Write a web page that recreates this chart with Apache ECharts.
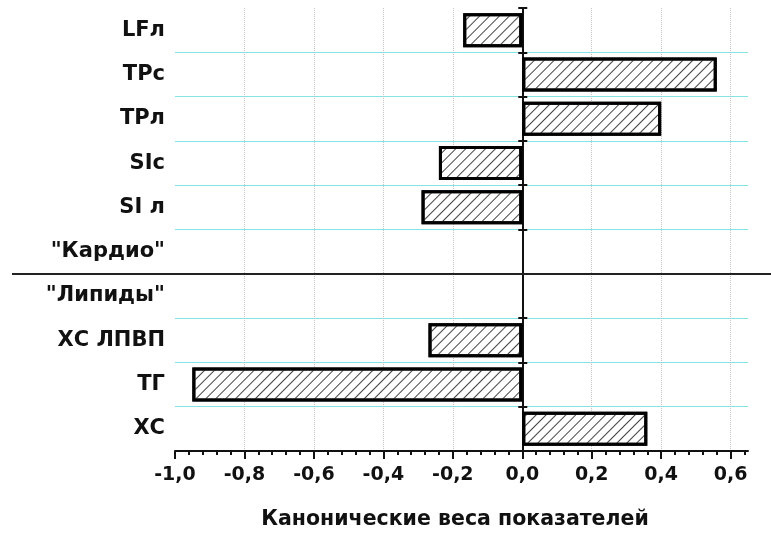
<!DOCTYPE html>
<html><head><meta charset="utf-8">
<script src="https://cdn.jsdelivr.net/npm/echarts@6/dist/echarts.min.js"></script>
<style>html,body{margin:0;padding:0;background:#fff}#c{width:771px;height:535px}</style>
</head><body><div id="c"></div>
<script>
const categories = ['LFл', 'TPc', 'TPл', 'SIc', 'SI л', '"Кардио"', '"Липиды"', 'ХС ЛПВП', 'ТГ', 'ХС'];
const weights = [-0.17, 0.56, 0.40, -0.24, -0.29, null, null, -0.27, -0.95, 0.36];
const majorTicks = [-1.0, -0.8, -0.6, -0.4, -0.2, 0.0, 0.2, 0.4, 0.6];
const gridLineTicks = [-0.8, -0.6, -0.4, -0.2, 0.2, 0.4, 0.6];
const minorTicks = [];
for (let i = 0; i <= 41; i++) { minorTicks.push(Math.round((-1 + i * 0.04) * 100) / 100); }
const separatorBefore = '"Липиды"';
const axisTitle = 'Канонические веса показателей';
const xMin = -1.0, xMax = 0.65;

const FONT = '"DejaVu Sans", sans-serif';
const chart = echarts.init(document.getElementById('c'), null, {renderer: 'canvas'});
const sepIndex = categories.indexOf(separatorBefore);

const option = {
  animation: false,
  backgroundColor: '#fff',
  grid: {left: 175, right: 23, top: 8, bottom: 84, containLabel: false, outerBoundsMode: 'none'},
  xAxis: [
    {
      type: 'value', min: xMin, max: xMax, position: 'bottom',
      axisLine: {show: true, onZero: false, lineStyle: {color: '#111', width: 2}},
      axisTick: {show: true, length: 8, customValues: majorTicks, lineStyle: {color: '#111', width: 2}},
      axisLabel: {
        customValues: majorTicks, margin: 15,
        formatter: v => v.toFixed(1).replace('.', ','),
        fontSize: 19, fontWeight: 'bold', color: '#111', fontFamily: FONT
      },
      splitLine: {show: false},
      name: axisTitle, nameLocation: 'middle', nameGap: 58,
      nameTextStyle: {fontSize: 20.5, fontWeight: 'bold', color: '#111', fontFamily: FONT, padding: [0, 13, 0, 0]}
    },
    {
      type: 'value', min: xMin, max: xMax, position: 'bottom',
      axisLine: {show: false, onZero: false},
      axisTick: {show: true, length: 4, customValues: minorTicks, lineStyle: {color: '#111', width: 2}},
      axisLabel: {show: false}, splitLine: {show: false}
    },
    {
      type: 'value', min: xMin, max: xMax, position: 'bottom',
      axisLine: {show: false, onZero: false},
      axisTick: {show: false, customValues: gridLineTicks},
      axisLabel: {show: false},
      splitLine: {show: true, lineStyle: {color: '#c4c4c4', type: 'dotted', width: 1}}
    }
  ],
  yAxis: [
    {
      type: 'category', data: categories, inverse: true, position: 'left',
      axisLine: {show: false}, axisTick: {show: false},
      axisLabel: {fontSize: 21, fontWeight: 'bold', color: '#111', fontFamily: FONT, margin: 10},
      splitLine: {show: true, interval: (i) => i !== 0 && i !== sepIndex, lineStyle: {color: '#84e4e4', width: 1}}
    },
    {
      type: 'category', data: categories, inverse: true, position: 'left',
      axisLine: {show: true, onZero: true, onZeroAxisIndex: 0, lineStyle: {color: '#111', width: 2}},
      axisTick: {show: true, inside: false, length: 4, lineStyle: {color: '#111', width: 2}},
      axisLabel: {show: false}, splitLine: {show: false}
    },
    {
      type: 'category', data: categories, inverse: true, position: 'left',
      axisLine: {show: true, onZero: true, onZeroAxisIndex: 0, lineStyle: {color: '#111', width: 2}},
      axisTick: {show: true, inside: true, length: 5, lineStyle: {color: '#111', width: 2}},
      axisLabel: {show: false}, splitLine: {show: false}
    }
  ],
  series: [{
    type: 'bar', xAxisIndex: 0, yAxisIndex: 0, data: weights, barWidth: 34,
    itemStyle: {
      color: '#fff', borderColor: '#000', borderWidth: 3,
      decal: {symbol: 'rect', symbolSize: 1, dashArrayX: [1, 0], dashArrayY: [1, 6], rotation: -Math.PI / 4, color: '#444'}
    }
  }]
};
chart.setOption(option);

const yA = chart.convertToPixel({yAxisIndex: 0}, categories[sepIndex - 1]);
const yB = chart.convertToPixel({yAxisIndex: 0}, categories[sepIndex]);
const ySep = Math.round((yA + yB) / 2);
chart.setOption({
  graphic: [{
    type: 'line', shape: {x1: 12, y1: ySep, x2: 771, y2: ySep},
    style: {stroke: '#222', lineWidth: 2}, z: 100
  }]
});
</script>
</body></html>
